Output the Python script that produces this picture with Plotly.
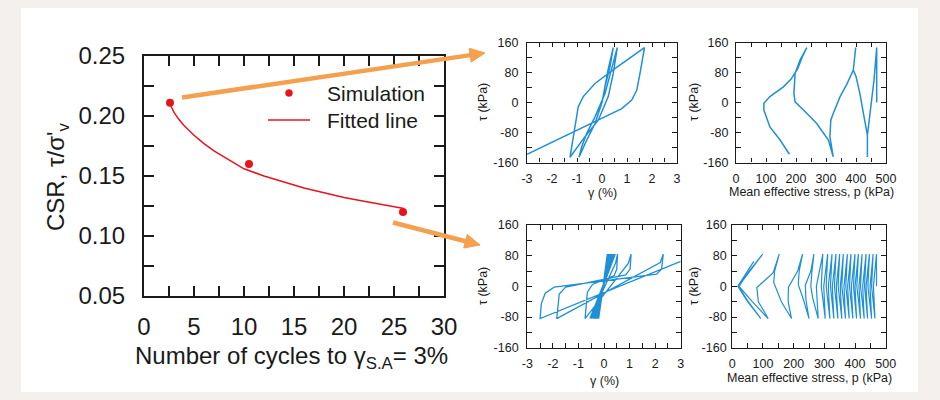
import plotly.graph_objects as go

# ---------------- data ----------------
# main chart: CSR vs number of cycles
cycles_sim = [2.6, 10.5, 25.9]
csr_sim = [0.211, 0.160, 0.120]
cycles_fit = [2.6, 3, 3.5, 4, 5, 6, 7, 8, 10, 12, 14, 16, 18, 20, 22, 24, 26]
csr_fit = [0.210, 0.203, 0.197, 0.192, 0.184, 0.177, 0.171, 0.166, 0.156, 0.150,
           0.145, 0.140, 0.136, 0.132, 0.129, 0.126, 0.123]
main_xticks = [0, 5, 10, 15, 20, 25, 30]
main_yticks = [0.05, 0.10, 0.15, 0.20, 0.25]
main_yticktext = ["0.05", "0.10", "0.15", "0.20", "0.25"]

# top-left: shear strain vs shear stress (CSR = 0.21)
tl_gamma = [0, 0.1, 0.25, 0.45,
            0.32, 0.12, -0.01, -0.28, -0.61, -0.92,
            -0.81, -0.61, -0.28, 0.12, 0.41, 0.61,
            0.45, 0.25, -0.15, -0.68, -1.28,
            -1.2, -1.08, -0.95, -0.75, -0.28, 0.5, 1.1, 1.7,
            1.52, 1.39, 1.19, 0.79, -3.0]
tl_tau = [0, 40, 90, 147,
          96, 42, -2, -56, -100, -146,
          -118, -82, -38, 24, 96, 147,
          78, 16, -47, -91, -146,
          -110, -65, -11, 16, 51, 90, 118, 147,
          78, 33, 7, -16, -138]

# top-right: mean effective stress vs shear stress (CSR = 0.21)
tr_p = [469, 469, 469,
        460, 447, 438, 438,
        438, 425, 413, 400, 391, 399,
        391, 370, 347, 324, 316, 313, 318, 324,
        308, 269, 230, 197, 193, 197, 213, 236,
        222, 205, 183, 158, 113, 93, 93, 113, 147, 178]
tr_tau = [0, 80, 147,
          60, -38, -87, -145,
          -87, -30, 24, 70, 87, 147,
          87, 50, 16, -29, -47, -91, -120, -145,
          -100, -56, -24, 2, 24, 78, 113, 147,
          124, 89, 62, 42, 16, -2, -20, -65, -100, -138]

# bottom-left: shear strain vs shear stress (CSR = 0.12)
bl_dense_pos = [0.13, 0.15, 0.17, 0.19, 0.21, 0.23, 0.25, 0.27, 0.29, 0.31, 0.34, 0.37, 0.40, 0.44]
bl_dense_neg = [-0.21, -0.23, -0.25, -0.27, -0.29, -0.31, -0.33, -0.35, -0.37, -0.40, -0.43, -0.46, -0.50, -0.55]
bl_tail_gamma = [0.45, 0.53,
                 0.5, 0.4, -0.45, -0.65, -0.74,
                 0.95, 1.06,
                 1.02, 0.85, -1.5, -1.75, -1.85,
                 2.2, 2.32,
                 2.25, 2.06, -1.95, -2.3, -2.45, -2.5,
                 3.0]
bl_tail_tau = [60, 84,
               45, 28, 5, -15, -84,
               60, 84,
               45, 30, -2, -20, -84,
               62, 84,
               45, 32, -2, -18, -45, -84,
               65]

# bottom-right: mean effective stress vs shear stress (CSR = 0.12)
br_dense_peak = [470, 465, 459, 454, 447, 441, 436, 430, 423, 418, 411, 405, 400, 393, 387,
                 381, 375, 369, 362, 357, 350, 344, 338, 331, 325, 318, 311, 303, 295, 280]
br_dense_cross = [460, 454, 449, 442, 436, 431, 425, 418, 413, 406, 400, 395, 388, 382, 376,
                  370, 364, 357, 352, 345, 339, 333, 326, 320, 313, 306, 298, 290, 274]
br_tail_p = [262, 256, 259, 266,
             256, 238, 240, 250,
             232, 215, 218, 229,
             213, 183, 182, 193,
             160, 135, 138, 153,
             133, 80, 85, 117,
             65, 22, 55, 99,
             58, 20, 52, 93,
             50, 18, 45, 70]
br_tail_tau = [-30, 0, 35, 84,
               40, 3, -35, -84,
               -35, 5, 40, 84,
               40, -2, -40, -84,
               -40, 10, 40, 84,
               35, -3, -40, -84,
               -40, 0, 40, 84,
               40, 0, -40, -84,
               -40, 0, 35, 65]

gamma_ticks = [-3, -2, -1, 0, 1, 2, 3]
gamma_ticktext = ["-3", "-2", "-1", "0", "1", "2", "3"]
tau_ticks = [-160, -80, 0, 80, 160]
tau_ticktext = ["-160", "-80", "0", "80", "160"]
p_ticks = [0, 100, 200, 300, 400, 500]

# ---------------- build paths from read values ----------------
bl_g = [0.0]
bl_t = [0.0]
for gp, gn in zip(bl_dense_pos, bl_dense_neg):
    bl_g += [gp, gn]
    bl_t += [84, -84]
bl_g += bl_tail_gamma
bl_t += bl_tail_tau

br_p = [470]
br_t = [0]
for i, pk in enumerate(br_dense_peak):
    if i > 0:
        br_p.append(br_dense_cross[i - 1])
        br_t.append(0)
    br_p.append(pk)
    br_t.append(84 if i % 2 == 0 else -84)
br_p += br_tail_p
br_t += br_tail_tau

# ---------------- figure ----------------
W, H = 940, 400
FONT = "Liberation Sans, Arial, sans-serif"
BLUE = "#1f8fd8"
RED = "#e8141c"
ORANGE = "#f3a04f"
INK = "#1a1a1a"
TICK_MAIN = "#1a1a1a"
TICK_SMALL = "#1a1a1a"


def X(px):
    return px / W


def Y(py):
    return 1 - py / H


fig = go.Figure()
fig.add_trace(go.Scatter(x=cycles_fit, y=csr_fit, mode="lines",
                         line=dict(color=RED, width=1.5), xaxis="x", yaxis="y"))
fig.add_trace(go.Scatter(x=cycles_sim, y=csr_sim, mode="markers",
                         marker=dict(color=RED, size=8), xaxis="x", yaxis="y"))
fig.add_trace(go.Scatter(x=tl_gamma, y=tl_tau, mode="lines",
                         line=dict(color=BLUE, width=1.5), xaxis="x2", yaxis="y2"))
fig.add_trace(go.Scatter(x=tr_p, y=tr_tau, mode="lines",
                         line=dict(color=BLUE, width=1.5), xaxis="x3", yaxis="y3"))
fig.add_trace(go.Scatter(x=bl_g, y=bl_t, mode="lines",
                         line=dict(color=BLUE, width=1.3), xaxis="x4", yaxis="y4"))
fig.add_trace(go.Scatter(x=br_p, y=br_t, mode="lines",
                         line=dict(color=BLUE, width=1.2), xaxis="x5", yaxis="y5"))


def small_axis(domain, rng, vals, text, dtick_minor, anchor, standoff):
    return dict(domain=domain, range=rng, anchor=anchor, tickmode="array", automargin=False,
                tickvals=vals, ticktext=text, ticks="inside", ticklen=4.5, tickwidth=1.3,
                tickcolor=TICK_SMALL, showline=True, linewidth=1.3, linecolor=INK, mirror="allticks",
                showgrid=False, zeroline=False, ticklabelstandoff=standoff,
                tickfont=dict(family=FONT, size=12.5, color=INK),
                minor=dict(ticks="inside", ticklen=4.5, tickwidth=1.3, tickcolor=TICK_SMALL,
                           tickmode="linear", tick0=0, dtick=dtick_minor, showgrid=False))


main_common = dict(ticks="inside", ticklen=10, tickwidth=2, tickcolor=TICK_MAIN, automargin=False,
                   showline=True, linewidth=2, linecolor="#1a1a1a", mirror="allticks",
                   showgrid=False, zeroline=False,
                   tickfont=dict(family=FONT, size=24, color=INK))

layout = dict(
    template="none",
    width=W, height=H, margin=dict(l=0, r=0, t=0, b=0, pad=0),
    paper_bgcolor="#f3f0ee", plot_bgcolor="white", showlegend=False,
    xaxis=dict(domain=[X(144), X(444)], range=[0, 30], anchor="y", tickmode="array",
               tickvals=main_xticks, ticklabelstandoff=8,
               minor=dict(ticks="inside", ticklen=10, tickwidth=2, tickcolor=TICK_MAIN,
                          tickmode="linear", tick0=0, dtick=2.5), **main_common),
    yaxis=dict(domain=[Y(296), Y(56)], range=[0.05, 0.25], anchor="x", tickmode="array",
               tickvals=main_yticks, ticktext=main_yticktext, ticklabelstandoff=12,
               minor=dict(ticks="inside", ticklen=10, tickwidth=2, tickcolor=TICK_MAIN,
                          tickmode="linear", tick0=0.05, dtick=0.025), **main_common),
    xaxis2=small_axis([X(527), X(677)], [-3, 3], gamma_ticks, gamma_ticktext, 0.5, "y2", 4),
    yaxis2=small_axis([Y(162.5), Y(42.7)], [-160, 160], tau_ticks, tau_ticktext, 40, "x2", 5),
    xaxis3=small_axis([X(736), X(886)], [0, 500], p_ticks, [str(v) for v in p_ticks], 50, "y3", 4),
    yaxis3=small_axis([Y(162.5), Y(42.7)], [-160, 160], tau_ticks, tau_ticktext, 40, "x3", 4),
    xaxis4=small_axis([X(527.3), X(680.7)], [-3, 3], gamma_ticks, gamma_ticktext, 0.5, "y4", 4),
    yaxis4=small_axis([Y(347.7), Y(225)], [-160, 160], tau_ticks, tau_ticktext, 40, "x4", 5),
    xaxis5=small_axis([X(732.3), X(885.7)], [0, 500], p_ticks, [str(v) for v in p_ticks], 50, "y5", 4),
    yaxis5=small_axis([Y(347.7), Y(225)], [-160, 160], tau_ticks, tau_ticktext, 40, "x5", 2),
)
fig.update_layout(**layout)

shapes = []
# white panel
shapes.append(dict(type="rect", xref="paper", yref="paper", x0=X(21), x1=X(918), y0=Y(392), y1=Y(8),
                   fillcolor="white", line=dict(width=0), layer="below"))


def arrow(x0, y0, x1, y1, head_len=15, half_w=7):
    dx, dy = x1 - x0, y1 - y0
    L = (dx * dx + dy * dy) ** 0.5
    ux, uy = dx / L, dy / L
    bx, by = x1 - head_len * ux, y1 - head_len * uy
    px, py = -uy, ux
    out = [dict(type="line", xref="paper", yref="paper", x0=X(x0), y0=Y(y0), x1=X(bx + 2 * ux), y1=Y(by + 2 * uy),
                line=dict(color=ORANGE, width=4.5), layer="above")]
    path = "M {:.5f} {:.5f} L {:.5f} {:.5f} L {:.5f} {:.5f} Z".format(
        X(x1), Y(y1), X(bx + half_w * px), Y(by + half_w * py), X(bx - half_w * px), Y(by - half_w * py))
    out.append(dict(type="path", xref="paper", yref="paper", path=path, fillcolor=ORANGE,
                    line=dict(color=ORANGE, width=1), layer="above"))
    return out


shapes += arrow(182, 97.5, 485, 53)
shapes += arrow(393, 222.5, 480, 245)

# legend glyphs
shapes.append(dict(type="line", xref="paper", yref="paper", x0=X(268), x1=X(310), y0=Y(120), y1=Y(120),
                   line=dict(color=RED, width=1.5)))
shapes.append(dict(type="circle", xref="paper", yref="paper", x0=X(285.5), x1=X(292.5), y0=Y(96.5), y1=Y(89.5),
                   fillcolor=RED, line=dict(color=RED, width=0.5)))
fig.update_layout(shapes=shapes)

ann = []


def label(text, px, py, size, angle=0, xanchor="center"):
    ann.append(dict(text=text, x=X(px), y=Y(py), xref="paper", yref="paper", showarrow=False,
                    xanchor=xanchor, yanchor="middle", textangle=angle,
                    font=dict(family=FONT, size=size, color=INK)))


label("Number of cycles to γ<sub>S.A</sub>= 3%", 291, 357, 24)
label("CSR, τ/σ'<sub>v</sub>", 57, 177, 24, angle=-90)
label("Simulation", 325, 93, 21, xanchor="left")
label("Fitted line", 325, 120, 21, xanchor="left")
label("γ (%)", 602, 193, 12.5)
label("τ (kPa)", 483, 102, 12.5, angle=-90)
label("Mean effective stress, p (kPa)", 811, 192, 12.5)
label("τ (kPa)", 694, 102, 12.5, angle=-90)
label("γ (%)", 604, 381, 12.5)
label("τ (kPa)", 483, 286, 12.5, angle=-90)
label("Mean effective stress, p (kPa)", 809, 378, 12.5)
label("τ (kPa)", 694, 286, 12.5, angle=-90)
fig.update_layout(annotations=ann)

fig.write_html("out.html")
